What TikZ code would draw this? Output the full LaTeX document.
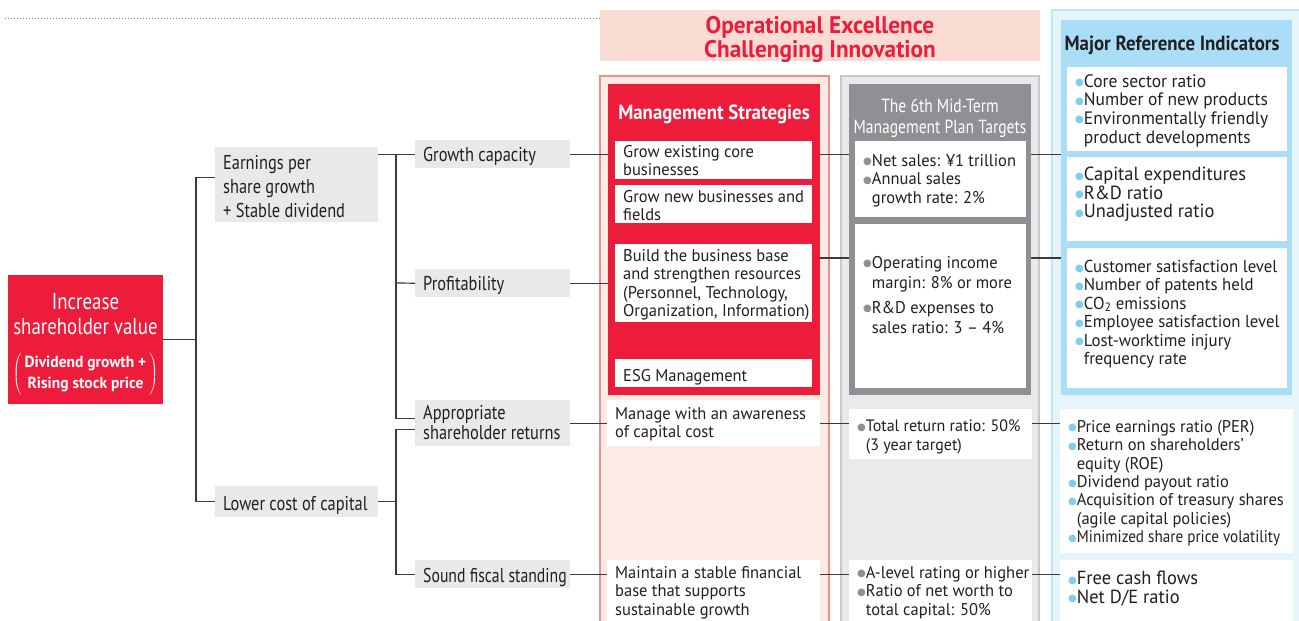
\documentclass[tikz,border=0pt]{standalone}
\usepackage{fontspec}
\usepackage{graphicx}
\setmainfont{PT Sans}[FakeStretch=0.82]
\newfontfamily\bodyfam{PT Sans}[FakeStretch=0.97]
\newfontfamily\midfam{PT Sans}[FakeStretch=0.92]
\newfontfamily\symfont{DejaVu Sans}
\usepackage{xcolor}
\usetikzlibrary{positioning, calc}

\definecolor{mainred}{HTML}{EE1C3B}
\definecolor{bannerpink}{HTML}{FBDCD4}
\definecolor{stratbg}{HTML}{FBEBE4}
\definecolor{stratline}{HTML}{F08E8A}
\definecolor{grayback}{HTML}{EAEAEC}
\definecolor{grayline}{HTML}{C8C8CA}
\definecolor{graypanel}{HTML}{8F9094}
\definecolor{blueback}{HTML}{E6F5FC}
\definecolor{blueline}{HTML}{BEE6F8}
\definecolor{bluepanel}{HTML}{A9DEF6}
\definecolor{bluedot}{HTML}{7FCDEF}
\definecolor{leafgray}{HTML}{E9E9EB}
\definecolor{ink}{HTML}{231F20}
\definecolor{wire}{HTML}{3A3A3A}

% fonts
\newcommand{\bodyfont}{\bodyfam\fontsize{17}{18.4}\selectfont}
\newcommand{\leaffont}{\fontsize{20}{24}\selectfont}
\newcommand{\titlefont}{\midfam\bfseries\fontsize{20.5}{22}\selectfont}
\newcommand{\subtitlefont}{\fontsize{19}{21}\selectfont}
\newcommand{\bannerfont}{\bodyfam\bfseries\fontsize{24}{24}\selectfont}
\newcommand{\incfont}{\fontsize{23}{25}\selectfont}
\newcommand{\parenfont}{\bodyfam\bfseries\fontsize{16}{20.5}\selectfont}

% bullets
\newcommand{\gdot}{{\color{graypanel}\raisebox{1.5pt}{\symfont\fontsize{10}{10}\selectfont ●}}}
\newcommand{\bdot}{{\color{bluedot}\raisebox{1.5pt}{\symfont\fontsize{10}{10}\selectfont ●}}}
\newcommand{\ind}{\phantom{\gdot}}

% text cell: [top pad]{width}{height}{text}
\makeatletter
\newcommand{\cell}[4][4]{\parbox[c][#3pt][t]{#2pt}{\baselineskip=\f@baselineskip\relax
  \lineskiplimit=-100pt\lineskip=0pt\relax
  \vspace*{#1pt}\raggedright\leftskip=8pt\relax #4\par}}
\makeatother

\begin{document}
\begin{tikzpicture}[x=1pt, y=-1pt,
  conn/.style={draw=wire, line width=1.2pt},
  panel/.style={anchor=north west, inner sep=0pt, outer sep=0pt},
  wbox/.style={fill=white, inner sep=0pt, anchor=north west, text=ink, font=\bodyfont},
  leaf/.style={fill=leafgray, inner sep=0pt, anchor=north west, text=ink, font=\leaffont}]
  \useasboundingbox (0,0) rectangle (1299,621);
  \clip (0,0) rectangle (1299,621);

  % Header
  \draw[gray, dotted, line width=1pt] (5,18) -- (600,18);
  \node[panel, fill=bannerpink, minimum width=440, minimum height=51] (ban) at (600,10) {};
  \node[text=mainred, font=\bannerfont, align=center] (bant) at (820,39) {Operational Excellence\\Challenging Innovation};

  % Column panels
  \node[panel, fill=stratbg, draw=stratline, line width=1.2pt, minimum width=229, minimum height=560] (msp) at (600,76) {};
  \node[panel, fill=mainred, minimum width=212, minimum height=311] (ms) at (608,84) {};
  \node[panel, fill=grayback, draw=grayline, line width=1.5pt, minimum width=198, minimum height=560] (tgo) at (841,76) {};
  \node[panel, fill=graypanel, minimum width=182, minimum height=311] (tp) at (849,84) {};
  \node[panel, fill=blueback, draw=blueline, line width=1.5pt, minimum width=260, minimum height=620] (mio) at (1052,10) {};
  \node[panel, fill=bluepanel, minimum width=231, minimum height=375] (mi) at (1061,20) {};

  % Column titles
  \node[text=white, font=\titlefont] (mst) at (714,114) {Management Strategies};
  \node[text=white, font=\subtitlefont, align=center] (tpt) at (940,118) {The 6th Mid-Term\\Management Plan Targets};
  \node[text=ink, font=\titlefont] (mit) at (1172,45) {Major Reference Indicators};

  % Root and tree
  \node[panel, fill=mainred, text=white, font=\incfont] (inc) at (8,275)
    {\parbox[c][129pt][t]{155pt}{\lineskiplimit=-100pt\lineskip=0pt\baselineskip=25pt
     \vspace*{18pt}\centering Increase\\shareholder value\\[19pt]
     {\parenfont\lineskiplimit=0pt$\left(\,\begin{tabular}{@{}c@{}}Dividend growth +\\Rising stock price\end{tabular}\,\right)$}\par}};
  \node[leaf] (eps) at (215,147) {\cell[8]{163}{75}{Earnings per\\share growth\\+ Stable dividend}};
  \node[leaf] (low) at (215,486) {\cell[10]{163}{31}{Lower cost of capital}};
  \node[leaf] (grow) at (415,140) {\cell[7]{155}{28}{Growth capacity}};
  \node[leaf] (prof) at (415,269) {\cell[7.5]{155}{28}{Profitability}};
  \node[leaf, font=\fontsize{20}{20}\selectfont] (appr) at (415,400) {\cell[5]{155}{46}{Appropriate\\shareholder returns}};
  \node[leaf] (snd) at (415,560) {\cell[8.5]{155}{28}{\scalebox{0.96}[1]{Sound fiscal standing}}};

  % Management strategies
  \node[wbox] (s1) at (615,141) {\cell[4]{197}{38}{Grow existing core\\businesses}};
  \node[wbox] (s2) at (615,185) {\cell[5]{197}{38}{Grow new businesses and\\fields}};
  \node[wbox] (s3) at (615,244) {\cell[5]{197}{78}{Build the business base\\and strengthen resources\\(Personnel, Technology,\\Organization, Information)}};
  \node[wbox] (s4) at (615,359) {\cell[10]{197}{28}{ESG Management}};
  \node[wbox] (s6) at (607,400) {\cell[7]{213}{46}{Manage with an awareness\\of capital cost}};
  \node[wbox] (s7) at (607,560) {\cell[6]{213}{80}{Maintain a stable financial\\base that supports\\sustainable growth}};

  % Plan targets
  \node[wbox] (t1) at (855,141) {\cell[13]{171}{76}{\gdot Net sales: ¥1 trillion\\\gdot Annual sales\\\ind growth rate: 2\%}};
  \node[wbox] (t2) at (855,224) {\cell[32]{171}{164}{\gdot Operating income\\[1.6pt]\ind margin: 8\% or more\\[6.6pt]\gdot R\&D expenses to\\[1.6pt]\ind sales ratio: 3 – 4\%}};
  \node[wbox, font=\bodyfam\fontsize{16.5}{18.6}\selectfont] (t3) at (849,409) {\cell[11]{183}{50}{\gdot Total return ratio: 50\%\\\ind (3 year target)}};
  \node[wbox] (t4) at (849,560) {\cell[6]{183}{80}{\gdot A-level rating or higher\\\gdot Ratio of net worth to\\\ind total capital: 50\%}};

  % Reference indicators
  \node[wbox, font=\bodyfam\fontsize{18}{18.7}\selectfont] (i1) at (1067,67) {\cell[7]{220}{84}{\bdot Core sector ratio\\\bdot Number of new products\\\bdot Environmentally friendly\\\ind product developments}};
  \node[wbox, font=\bodyfam\fontsize{19}{18.6}\selectfont] (i2) at (1067,157) {\cell[10]{220}{84}{\bdot Capital expenditures\\\bdot R\&D ratio\\\bdot Unadjusted ratio}};
  \node[wbox, font=\bodyfam\fontsize{17.3}{18.4}\selectfont] (i3) at (1067,248) {\cell[12]{220}{140}{\bdot Customer satisfaction level\\\bdot Number of patents held\\\bdot CO\textsubscript{2} emissions\\\bdot Employee satisfaction level\\\bdot Lost-worktime injury\\\ind frequency rate}};
  \node[wbox] (i4) at (1060,409) {\cell[11]{233}{144}{\bdot Price earnings ratio (PER)\\\bdot Return on shareholders’\\\ind equity (ROE)\\\bdot Dividend payout ratio\\\bdot Acquisition of treasury shares\\\ind (agile capital policies)\\\bdot \scalebox{0.92}[1]{Minimized share price volatility}}};
  \node[wbox, font=\bodyfam\fontsize{19}{18.4}\selectfont] (i5) at (1060,560) {\cell[11]{233}{80}{\bdot Free cash flows\\\bdot Net D/E ratio}};

  % Connectors
  \coordinate (j1) at (196,339);
  \coordinate (j2) at (396,283);
  \coordinate (r2) at (0,258);
  \draw[conn] (inc.east) -- (inc.east -| j1);
  \draw[conn] ([yshift=7.5pt]eps.west) -| (j1 |- low.west) -- (low.west);
  \draw[conn] (eps.east |- grow.west) -- (grow.west);
  \draw[conn] (j2 |- grow.west) -- ([yshift=5pt]appr.west -| j2) -- ([yshift=5pt]appr.west);
  \draw[conn] (j2) -- (prof.west);
  \draw[conn] (low.east) -- (low.east -| j2);
  \draw[conn] ([yshift=-6pt]appr.west) -| (j2 |- snd.west) -- (snd.west);
  \draw[conn] (grow.east) -- (grow.east -| ms.west);
  \draw[conn] (prof.east) -- (prof.east -| ms.west);
  \draw[conn] (appr.east) -- (appr.east -| s6.west);
  \draw[conn] (snd.east) -- (snd.east -| s7.west);
  \draw[conn] (ms.east |- grow.east) -- (tp.west |- grow.east);
  \draw[conn] (ms.east |- r2) -- (tp.west |- r2);
  \draw[conn] (tp.east |- grow.east) -- (mi.west |- grow.east);
  \draw[conn] (tp.east |- r2) -- (mi.west |- r2);
  \draw[conn] (s6.east) -- (s6.east -| t3.west);
  \draw[conn] (t3.east |- s6.east) -- (i4.west |- s6.east);
  \draw[conn] (s7.east |- snd.east) -- (t4.west |- snd.east);
  \draw[conn] (t4.east |- snd.east) -- (i5.west |- snd.east);
\end{tikzpicture}
\end{document}
